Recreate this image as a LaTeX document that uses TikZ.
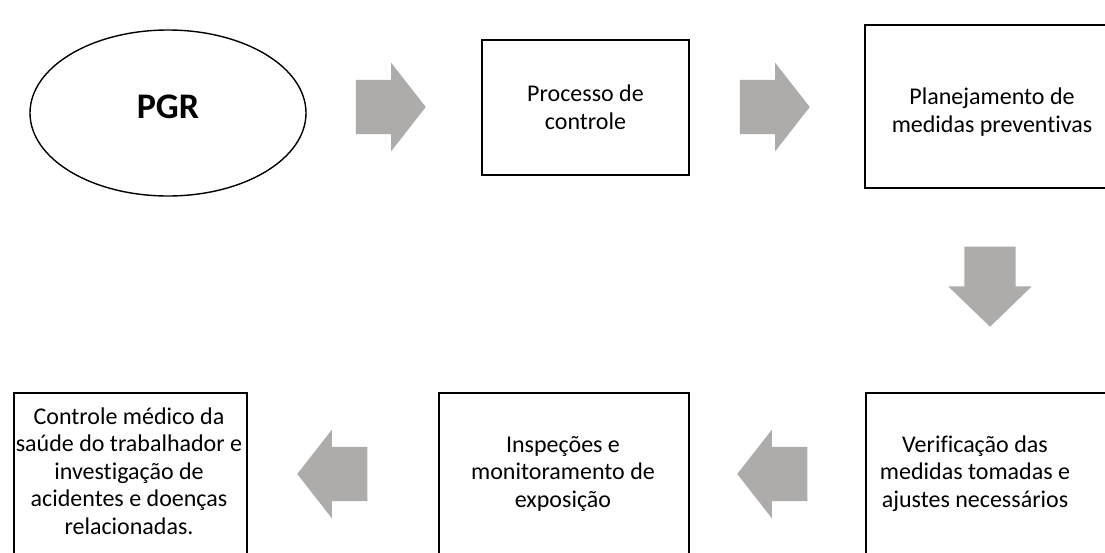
\documentclass[tikz,border=0pt]{standalone}
\usepackage{fontspec}
\setmainfont{Carlito}[Ligatures=NoCommon]
\usepackage{xcolor}
\usetikzlibrary{shapes.geometric,shapes.arrows,positioning}
\definecolor{setacinza}{RGB}{174,171,171}
\tikzstyle{etapa} = [rectangle, draw, line width=1.9pt, fill=white, inner sep=0pt, font=\fontsize{24}{28}\selectfont, align=center]
\tikzstyle{texto} = [inner sep=0pt, font=\fontsize{24}{27.5}\selectfont, align=center, anchor=base]
\tikzstyle{seta} = [single arrow, fill=setacinza, anchor=tip, inner xsep=0pt, inner ysep=27pt, minimum height=70pt, single arrow head extend=17pt, single arrow tip angle=104]

\begin{document}
\begin{tikzpicture}[x=1pt,y=-1pt]
  \useasboundingbox (0,0) rectangle (1105,552);
  \clip (0,0) rectangle (1105,552);

  % linha de cima
  \node[ellipse, draw, line width=1.4pt, minimum width=276pt, minimum height=166pt, inner sep=0pt, text depth=12pt, font=\fontsize{36}{40}\selectfont\bfseries] (PGR) at (168,113) {PGR};
  \node[etapa, minimum width=207pt, minimum height=135pt] (processo) at (585.5,107.5) {Processo de\\controle};
  \node[etapa, minimum width=254pt, minimum height=163pt, text height=56pt] (planejamento) at (992,106.5) {Planejamento de\\medidas preventivas};

  % linha de baixo (caixas cortadas pela margem)
  \node[etapa, anchor=north west, minimum width=260pt, minimum height=200pt] (verificacao) at (865,392) {};
  \node[etapa, anchor=north west, minimum width=250pt, minimum height=200pt] (inspecoes) at (438,392) {};
  \node[etapa, anchor=north west, minimum width=233pt, minimum height=200pt] (controle) at (13,392) {};
  \node[texto] (verificacaoT) at (975,507) {Verificação das\\medidas tomadas e\\ajustes necessários};
  \node[texto] (inspecoesT) at (563,507) {Inspeções e\\monitoramento de\\exposição};
  \node[texto] (controleT) at (129,534) {Controle médico da\\saúde do trabalhador e\\investigação de\\acidentes e doenças\\relacionadas.};

  % setas
  \node[seta] (s1) at (426,107) {};
  \node[seta] (s2) at (810,107) {};
  \node[seta, shape border rotate=270, inner xsep=25.5pt, inner ysep=0pt, minimum height=80pt, single arrow head extend=16pt, single arrow tip angle=92] (s3) at (990,327) {};
  \node[seta, shape border rotate=180] (s4) at (737,474) {};
  \node[seta, shape border rotate=180] (s5) at (297,474) {};
\end{tikzpicture}
\end{document}
